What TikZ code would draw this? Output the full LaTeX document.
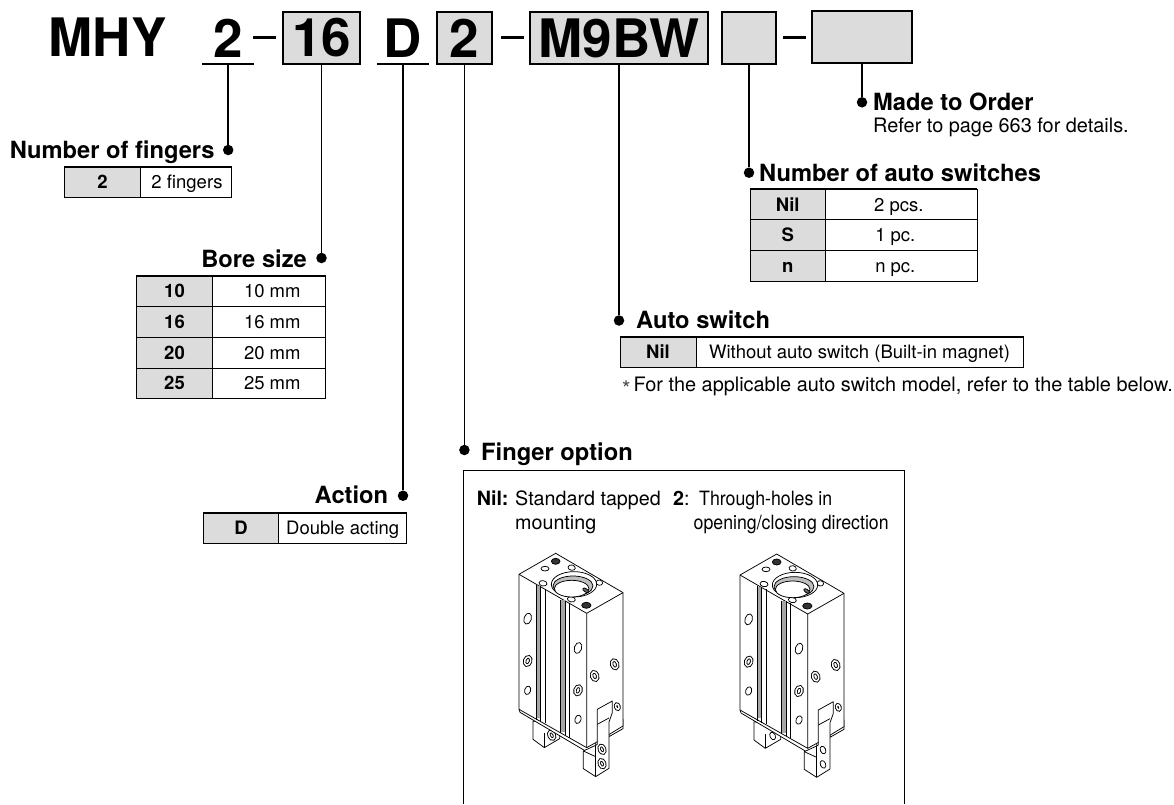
\documentclass[tikz,border=0pt]{standalone}
\usepackage{fontspec}
\setmainfont{TeX Gyre Heros}
\newfontfamily\narrowfont[FakeStretch=0.9]{TeX Gyre Heros}
\usepackage{tikz}
\usetikzlibrary{positioning}
\definecolor{cellgray}{HTML}{DCDCDC}
\tikzset{
  codefont/.style={font=\fontsize{53}{56}\bfseries\selectfont},
  plaincode/.style={codefont, inner sep=0pt, outer sep=0pt, minimum height=52.6pt},
  codebox/.style={plaincode, draw, line width=1.8pt, fill=cellgray},
  hyphenmark/.style={fill=black, inner sep=0pt, minimum width=23pt, minimum height=3pt},
  rule/.style={line width=1.8pt},
  stem/.style={line width=1.8pt},
  bullet/.style={circle, fill=black, inner sep=0pt, minimum size=10.5pt},
  heading/.style={font=\fontsize{23.7}{26}\bfseries\selectfont, inner sep=0pt},
  smalltext/.style={font=\fontsize{18.5}{22}\selectfont, inner sep=0pt},
  paneltext/.style={font=\fontsize{19.7}{22}\selectfont, inner sep=0pt},
  narrowtext/.style={font=\fontsize{19.7}{22}\narrowfont\selectfont, inner sep=0pt},
  keycell/.style={draw, line width=1pt, fill=cellgray, inner sep=0pt, outer sep=0pt, align=center,
    text height=13pt, text depth=0pt, font=\fontsize{18.5}{22}\bfseries\selectfont, minimum height=30.7pt},
  valcell/.style={draw, line width=1pt, inner sep=0pt, outer sep=0pt, align=center,
    text height=13pt, text depth=0pt, font=\fontsize{18.5}{22}\selectfont, minimum height=30.7pt},
  toprule/.style={line width=2pt},
  panelline/.style={line width=0.8pt},
  gripline/.style={line width=0.75pt, line join=round},
  tapped/.style={line width=0.9pt, double=white, double distance=1.5pt},
  pics/gripper/.style={code={
    % fingers behind the body
    \draw[gripline, fill=white] (282,575) -- (282,630) -- (316,655) -- (362,628) -- (362,590) -- cycle;
    \draw[gripline] (316,655) -- (316,612);
    \draw[#1] (338,618) ellipse [x radius=8, y radius=12, rotate=25];
    \draw[gripline, fill=white] (510,580) -- (510,622) -- (552,598) -- (552,570) -- cycle;
    \draw[gripline] (510,610) -- (552,588);
    % body
    \draw[gripline, fill=white] (240,135) -- (350,72) -- (552,190) -- (552,590) -- (470,640)
      -- (470,650) -- (441,666) -- (243,549) -- (240,540) -- cycle;
    \draw[gripline] (240,135) -- (443,252) -- (552,190);
    \draw[gripline] (443,252) -- (443,655) -- (240,540);
    \draw[gripline] (443,655) -- (470,640);
    % grooves
    \fill[black!35] (293,170) rectangle (304,565);
    \fill[black!35] (367,213) rectangle (378,608);
    \draw[gripline] (291,168) -- (291,572) (305,170) -- (305,578) (318,178) -- (318,582);
    \draw[gripline] (365,212) -- (365,612) (379,214) -- (379,618) (390,220) -- (390,625);
    % top face
    \draw[gripline, fill=white] (312,162) ellipse [x radius=12, y radius=8, rotate=-10];
    \draw[gripline, fill=white] (397,210) ellipse [x radius=12, y radius=8, rotate=-10];
    \draw[gripline, fill=white] (398,115) ellipse [x radius=11, y radius=8, rotate=-10];
    \draw[gripline, fill=white] (481,160) ellipse [x radius=10, y radius=8, rotate=-10];
    \draw[gripline, fill=white] (318,118) ellipse [x radius=12, y radius=7];
    \draw[gripline, fill=black!80] (350,96) ellipse [x radius=13, y radius=9];
    \draw[gripline, fill=black!80] (442,228) ellipse [x radius=14, y radius=9];
    \draw[gripline, fill=white] (405,165) ellipse [x radius=68, y radius=38];
    \draw[gripline, fill=black!25] (402,170) ellipse [x radius=60, y radius=30];
    \draw[gripline, fill=white] (398,178) ellipse [x radius=52, y radius=25];
    \draw[gripline, fill=black!60] (440,183) ellipse [x radius=10, y radius=5, rotate=-35];
    % holes in the side faces
    \draw[gripline] (266,268) ellipse [x radius=11, y radius=17, rotate=-18];
    \draw[gripline] (266,483) ellipse [x radius=9, y radius=13, rotate=-18];
    \draw[tapped] (266,395) ellipse [x radius=9, y radius=13, rotate=-18];
    \draw[gripline] (417,356) ellipse [x radius=11, y radius=17, rotate=-18];
    \draw[tapped] (417,483) ellipse [x radius=9, y radius=13, rotate=-18];
    \draw[gripline] (417,570) ellipse [x radius=9, y radius=13, rotate=-18];
    \draw[tapped] (467,440) ellipse [x radius=9, y radius=13, rotate=18];
    \draw[tapped] (527,405) ellipse [x radius=9, y radius=13, rotate=18];
    \draw[tapped] (535,532) ellipse [x radius=5, y radius=8, rotate=18];
    % finger in front
    \draw[gripline, fill=white] (475,540) -- (520,515) -- (520,550) -- (510,578) -- (510,717)
      -- (470,742) -- (433,718) -- (433,665) -- (470,648) -- (475,645) -- cycle;
    \draw[gripline] (433,665) -- (470,682);
    \draw[gripline] (470,648) -- (470,742);
    \draw[gripline] (475,585) -- (510,566);
    \draw[#1] (489,660) ellipse [x radius=8, y radius=12, rotate=22];
    \draw[#1] (489,703) ellipse [x radius=8, y radius=12, rotate=22];
  }},
}
\begin{document}
\begin{tikzpicture}[x=1pt, y=-1pt]
  \useasboundingbox (0,0) rectangle (1174,804);

  % model code
  \node[plaincode, minimum width=115pt] (mhy) at (107.5,37.5) {MHY};
  \node[plaincode, minimum width=52pt] (fingers) at (228.2,38) {2};
  \node[hyphenmark] (dash1) at (264,37.3) {};
  \node[codebox, minimum width=77pt] (bore) at (321.5,38) {16};
  \node[plaincode, minimum width=52pt] (action) at (403,38) {D};
  \node[codebox, minimum width=54.4pt] (option) at (464.4,38) {2};
  \node[hyphenmark] (dash2) at (512,37.3) {};
  \node[codebox, minimum width=178pt] (switch) at (619,38) {M9BW};
  \node[codebox, minimum width=54pt] (count) at (749,38) {};
  \node[hyphenmark] (dash3) at (794,37.3) {};
  \node[codebox, minimum width=99.5pt] (order) at (862,37) {};

  \draw[rule] (fingers.south west) -- (fingers.south east);
  \draw[rule] (action.south west) -- (action.south east);

  % ends of the leaders
  \node[bullet] (dotfingers) at (228.2,150) {};
  \node[bullet] (dotbore) at (321.5,258) {};
  \node[bullet] (dotaction) at (403,495.7) {};
  \node[bullet] (dotoption) at (464.4,450) {};
  \node[bullet] (dotswitch) at (619,320.5) {};
  \node[bullet] (dotcount) at (749,172.7) {};
  \node[bullet] (dotorder) at (862,102.3) {};

  \draw[stem] (fingers.south) -- (dotfingers);
  \draw[stem] (bore.south) -- (dotbore);
  \draw[stem] (action.south) -- (dotaction);
  \draw[stem] (option.south) -- (dotoption);
  \draw[stem] (switch.south) -- (dotswitch);
  \draw[stem] (count.south) -- (dotcount);
  \draw[stem] (order.south) -- (dotorder);

  % made to order
  \node[heading, anchor=base west] (ordertitle) at (873,110) {Made to Order};
  \node[smalltext, anchor=base west, font=\fontsize{19.9}{22}\selectfont] (ordernote) at (873,132.7) {Refer to page 663 for details.};

  % number of fingers
  \node[heading, anchor=base east] (fingerstitle) at (214.7,158) {Number of fingers};
  \node[keycell, minimum width=76.2pt] (f1) at (102.4,182.2) {2};
  \node[valcell, minimum width=91pt, right=0pt of f1] (f1v) {\hspace*{2pt}2 fingers};
  \draw[toprule] (f1.north west) -- (f1v.north east);

  % bore size
  \node[heading, anchor=base east] (boretitle) at (307,267.3) {Bore size};
  \node[keycell, minimum width=75.6pt] (b1) at (174.5,291.3) {10};
  \node[valcell, minimum width=113pt, right=0pt of b1] (b1v) {\hspace*{7pt}10 mm};
  \node[keycell, minimum width=75.6pt, below=0pt of b1] (b2) {16};
  \node[valcell, minimum width=113pt, right=0pt of b2] (b2v) {\hspace*{7pt}16 mm};
  \node[keycell, minimum width=75.6pt, below=0pt of b2] (b3) {20};
  \node[valcell, minimum width=113pt, right=0pt of b3] (b3v) {\hspace*{7pt}20 mm};
  \node[keycell, minimum width=75.6pt, below=0pt of b3] (b4) {25};
  \node[valcell, minimum width=113pt, right=0pt of b4] (b4v) {\hspace*{7pt}25 mm};
  \draw[toprule] (b1.north west) -- (b1v.north east);

  % action
  \node[heading, anchor=base east] (actiontitle) at (388.3,503.3) {Action};
  \node[keycell, minimum width=75.4pt] (a1) at (241,528) {D};
  \node[valcell, minimum width=128pt, right=0pt of a1] (a1v) {Double acting};
  \draw[toprule] (a1.north west) -- (a1v.north east);

  % number of auto switches
  \node[heading, anchor=base west] (counttitle) at (759,181.7) {Number of auto switches};
  \node[keycell, minimum width=75.6pt] (c1) at (787.8,204.6) {Nil};
  \node[valcell, minimum width=151.4pt, right=0pt of c1] (c1v) {2 pcs.\hspace*{5pt}};
  \node[keycell, minimum width=75.6pt, below=0pt of c1] (c2) {S};
  \node[valcell, minimum width=151.4pt, right=0pt of c2] (c2v) {1 pc.\hspace*{12pt}};
  \node[keycell, minimum width=75.6pt, below=0pt of c2] (c3) {n};
  \node[valcell, minimum width=151.4pt, right=0pt of c3] (c3v) {n pc.\hspace*{12pt}};
  \draw[toprule] (c1.north west) -- (c1v.north east);

  % auto switch
  \node[heading, anchor=base west] (switchtitle) at (636,328) {Auto switch};
  \node[keycell, minimum width=76pt] (s1) at (658,352) {Nil};
  \node[valcell, minimum width=327pt, right=0pt of s1] (s1v) {Without auto switch (Built-in magnet)};
  \draw[toprule] (s1.north west) -- (s1v.north east);
  \node[smalltext, anchor=base west, text=black!70] (switchmark) at (621.5,388.5) {\textasteriskcentered};
  \node[smalltext, anchor=base west, font=\fontsize{19.9}{22}\selectfont] (switchnote) at (633.4,391.7) {For the applicable auto switch model, refer to the table below.};

  % finger option
  \node[heading, anchor=base west] (optiontitle) at (481,460) {Finger option};
  \coordinate (panelbl) at (463.5,804);
  \coordinate (paneltr) at (904,470);
  \coordinate (panelbr) at (904,804);
  \draw[panelline] (panelbl) |- (paneltr) -- (panelbr);
  \node[paneltext, anchor=base west] (nilkey) at (476.6,505) {\textbf{Nil:}};
  \node[paneltext, anchor=base west] (niltext) at (515,505) {Standard tapped};
  \node[paneltext, anchor=base west] (niltext2) at (515,529) {mounting};
  \node[paneltext, anchor=base west] (twokey) at (673,505) {\textbf{2}:};
  \node[narrowtext, anchor=base west] (twotext) at (699,505) {Through-holes in};
  \node[narrowtext, anchor=base west] (twotext2) at (693.5,529) {opening/closing direction};

  \pic[scale=1/3] at (439,529.3) {gripper={tapped}};
  \pic[scale=1/3] at (660,530) {gripper={gripline}};
\end{tikzpicture}
\end{document}
